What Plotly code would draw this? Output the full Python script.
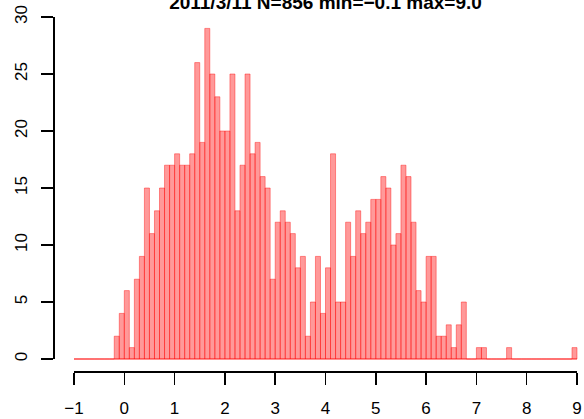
import numpy as np
import plotly.graph_objects as go

# Histogram data: bins of width 0.1 from -1 to 9 (right-closed, R style)
bin_start = -1.0
bin_width = 0.1
counts = [
    0, 0, 0, 0, 0, 0, 0, 0,          # -1.0 .. -0.3
    2, 4, 6, 1, 7, 9,                # -0.2 .. 0.3
    15, 11, 13, 15, 17, 17,          # 0.4 .. 0.9
    18, 17, 17, 18, 26, 19,          # 1.0 .. 1.5
    29, 25, 23, 20, 20, 25,          # 1.6 .. 2.1
    13, 17, 25, 18, 19, 16,          # 2.2 .. 2.7
    15, 7, 12, 13, 12, 11,           # 2.8 .. 3.3
    8, 9, 2, 5, 9, 4,                # 3.4 .. 3.9
    8, 18, 5, 5, 12, 9,              # 4.0 .. 4.5
    13, 11, 12, 14, 14, 16,          # 4.6 .. 5.1
    15, 10, 11, 17, 16, 12,          # 5.2 .. 5.7
    6, 5, 9, 9, 2, 2,                # 5.8 .. 6.3
    3, 1, 3, 5, 0, 0,                # 6.4 .. 6.9
    1, 1, 0, 0, 0, 0, 1, 0, 0, 0,    # 7.0 .. 7.9
    0, 0, 0, 0, 0, 0, 0, 0, 0, 1,    # 8.0 .. 8.9
]
x_ticks = [-1, 0, 1, 2, 3, 4, 5, 6, 7, 8, 9]
x_tick_labels = ["\u22121", "0", "1", "2", "3", "4", "5", "6", "7", "8", "9"]
y_ticks = [0, 5, 10, 15, 20, 25, 30]
y_tick_labels = ["0", "5", "10", "15", "20", "25", "30"]
title_text = "2011/3/11 N=856 min=\u22120.1 max=9.0"

breaks = bin_start + bin_width * np.arange(len(counts) + 1)
lefts = breaks[:-1]

W, H = 584, 419
bar_color = "rgba(255,0,0,0.4)"

fig = go.Figure()
# zero-height bins drawn as flat outlines (baseline)
fig.add_trace(go.Scatter(
    x=[breaks[0], breaks[-1]], y=[0, 0], mode="lines",
    line=dict(color=bar_color, width=1.5), hoverinfo="skip", showlegend=False,
))
fig.add_trace(go.Bar(
    x=lefts, y=counts, width=bin_width, offset=0,
    marker=dict(color=bar_color, line=dict(color=bar_color, width=1)),
    showlegend=False,
))
# empty trace to instantiate the visible R-style axes
fig.add_trace(go.Scatter(x=[], y=[], xaxis="x2", yaxis="y2", showlegend=False))

# pixel geometry
x_px_m1, x_px_9 = 74.0, 577.0
ppu_x = (x_px_9 - x_px_m1) / 10.0
y_px_0, y_px_30 = 359.0, 17.0
ppu_y = (y_px_0 - y_px_30) / 30.0

xr = [-1 - x_px_m1 / ppu_x, 9 + (W - x_px_9) / ppu_x]
yr = [-(H - y_px_0) / ppu_y, y_px_0 / ppu_y]

font_family = "Liberation Sans, Arial, Helvetica, sans-serif"

fig.update_layout(
    width=W, height=H, autosize=False,
    margin=dict(l=0, r=0, t=0, b=0, pad=0, autoexpand=False),
    paper_bgcolor="white", plot_bgcolor="rgba(0,0,0,0)",
    bargap=0,
    font=dict(family=font_family, size=17, color="black"),
    title=dict(
        text="<b>" + title_text + "</b>",
        x=(x_px_m1 + x_px_9) / 2 / W, xanchor="center", xref="paper",
        y=1 - 2.0 / H, yanchor="middle", yref="container",
        font=dict(family=font_family, size=19, color="black"),
    ),
    xaxis=dict(domain=[0, 1], range=xr, visible=False, fixedrange=True, automargin=False),
    yaxis=dict(domain=[0, 1], range=yr, visible=False, fixedrange=True, automargin=False),
    xaxis2=dict(
        domain=[x_px_m1 / W, x_px_9 / W], range=[-1, 9],
        anchor="free", position=1 - 371.0 / H, side="bottom", automargin=False,
        showline=True, linecolor="black", linewidth=1.5,
        ticks="outside", ticklen=12, tickwidth=1.5, tickcolor="black",
        tickvals=x_ticks, ticktext=x_tick_labels,
        showgrid=False, zeroline=False, ticklabelstandoff=9,
        tickfont=dict(size=17),
    ),
    yaxis2=dict(
        domain=[1 - y_px_0 / H, 1 - y_px_30 / H], range=[0, 30],
        anchor="free", position=53.3 / W, side="left", automargin=False,
        showline=True, linecolor="black", linewidth=1.5,
        ticks="outside", ticklen=12, tickwidth=1.5, tickcolor="black",
        tickvals=y_ticks, ticktext=y_tick_labels, tickangle=-90,
        showgrid=False, zeroline=False, ticklabelstandoff=8,
        tickfont=dict(size=17),
    ),
)

fig.write_html(
    "out.html",
    config={"displayModeBar": False, "staticPlot": True},
    post_script="document.body.style.margin='0px';",
)
